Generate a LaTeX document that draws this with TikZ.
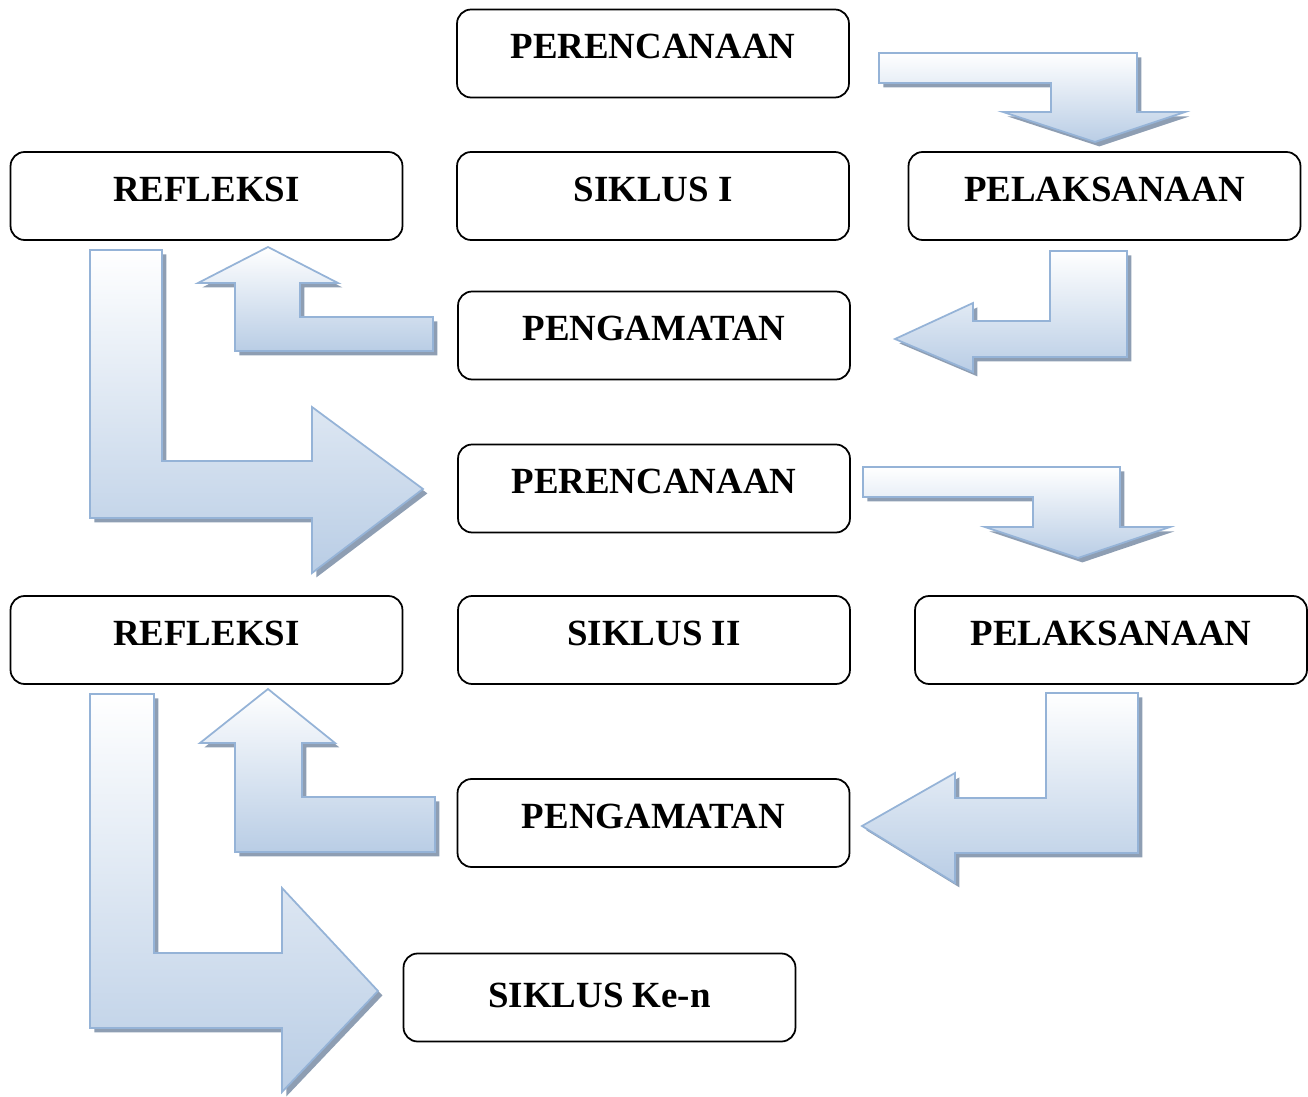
\documentclass[tikz,border=0pt]{standalone}
\usepackage{fontspec}
\setmainfont{Liberation Serif}
\usetikzlibrary{shadows}
\definecolor{flechaazul}{RGB}{185,205,229}
\definecolor{flechaborde}{RGB}{149,179,215}
\definecolor{flechasombra}{RGB}{142,158,179}
\tikzset{
    caja/.style = {
    	draw=black,
    	line width=1pt,
    	rounded corners=8pt,
    	minimum width=7.84cm,
    	minimum height=1.76cm,
    	inner sep=0pt,
    	text depth=8pt,
    	font=\fontsize{21}{25}\selectfont\bfseries
    },
    flecha/.style = {
    	draw=flechaborde,
    	line width=1pt,
    	top color=white,
    	bottom color=flechaazul,
    	drop shadow={shadow xshift=2.5pt, shadow yshift=-2.5pt, fill=flechasombra, opacity=1}
    }
}
\begin{document}
\begin{tikzpicture}[x=0.02cm, y=-0.02cm]
	\useasboundingbox (0,0) rectangle (1308,1097);

	% Coordenadas de las flechas
	\coordinate (F1) at (879,53);
	\coordinate (F2) at (1050,251);
	\coordinate (F3) at (433,317);
	\coordinate (F4) at (90,250);
	\coordinate (F5) at (863,467);
	\coordinate (F6) at (1046,693);
	\coordinate (F7) at (435,797);
	\coordinate (F8) at (90,694);

	% Flechas
	\draw[flecha] (F1) -- ++(258,0) -- ++(0,59) -- ++(48,0) -- ++(-90,30) -- ++(-92,-30) -- ++(48,0) -- ++(0,-29) -- ++(-172,0) -- cycle;
	\draw[flecha] (F2) -- ++(77,0) -- ++(0,106) -- ++(-154,0) -- ++(0,15) -- ++(-78,-33) -- ++(78,-36) -- ++(0,18) -- ++(77,0) -- cycle;
	\draw[flecha] (F3) -- ++(0,34) -- ++(-198,0) -- ++(0,-68) -- ++(-37,0) -- ++(70,-36) -- ++(70,36) -- ++(-38,0) -- ++(0,34) -- cycle;
	\draw[flecha] (F4) -- ++(72,0) -- ++(0,211) -- ++(150,0) -- ++(0,-54) -- ++(111,82) -- ++(-111,84) -- ++(0,-55) -- ++(-222,0) -- cycle;

	\draw[flecha] (F5) -- ++(257,0) -- ++(0,60) -- ++(50,0) -- ++(-92,31) -- ++(-93,-31) -- ++(48,0) -- ++(0,-30) -- ++(-170,0) -- cycle;
	\draw[flecha] (F6) -- ++(92,0) -- ++(0,160) -- ++(-183,0) -- ++(0,30) -- ++(-93,-57) -- ++(93,-53) -- ++(0,25) -- ++(91,0) -- cycle;
	\draw[flecha] (F7) -- ++(0,55) -- ++(-200,0) -- ++(0,-109) -- ++(-35,0) -- ++(68,-54) -- ++(67,54) -- ++(-33,0) -- ++(0,54) -- cycle;
	\draw[flecha] (F8) -- ++(64,0) -- ++(0,259) -- ++(128,0) -- ++(0,-65) -- ++(96,103) -- ++(-96,101) -- ++(0,-64) -- ++(-192,0) -- cycle;

	% Siklus I
	\node[caja] (per1) at (653,53.5) {PERENCANAAN};
	\node[caja] (ref1) at (206.5,196) {REFLEKSI};
	\node[caja] (sik1) at (653,196) {SIKLUS I};
	\node[caja] (pel1) at (1104.5,196) {PELAKSANAAN};
	\node[caja] (pen1) at (654,335.5) {PENGAMATAN};

	% Siklus II
	\node[caja] (per2) at (654,488.5) {PERENCANAAN};
	\node[caja] (ref2) at (206.5,640) {REFLEKSI};
	\node[caja] (sik2) at (654,640) {SIKLUS II};
	\node[caja] (pel2) at (1111,640) {PELAKSANAAN};
	\node[caja] (pen2) at (653.5,823) {PENGAMATAN};

	% Siklus ke-n
	\node[caja, text depth=3pt] (sikn) at (599.5,997.5) {SIKLUS Ke-n};

\end{tikzpicture}
\end{document}
